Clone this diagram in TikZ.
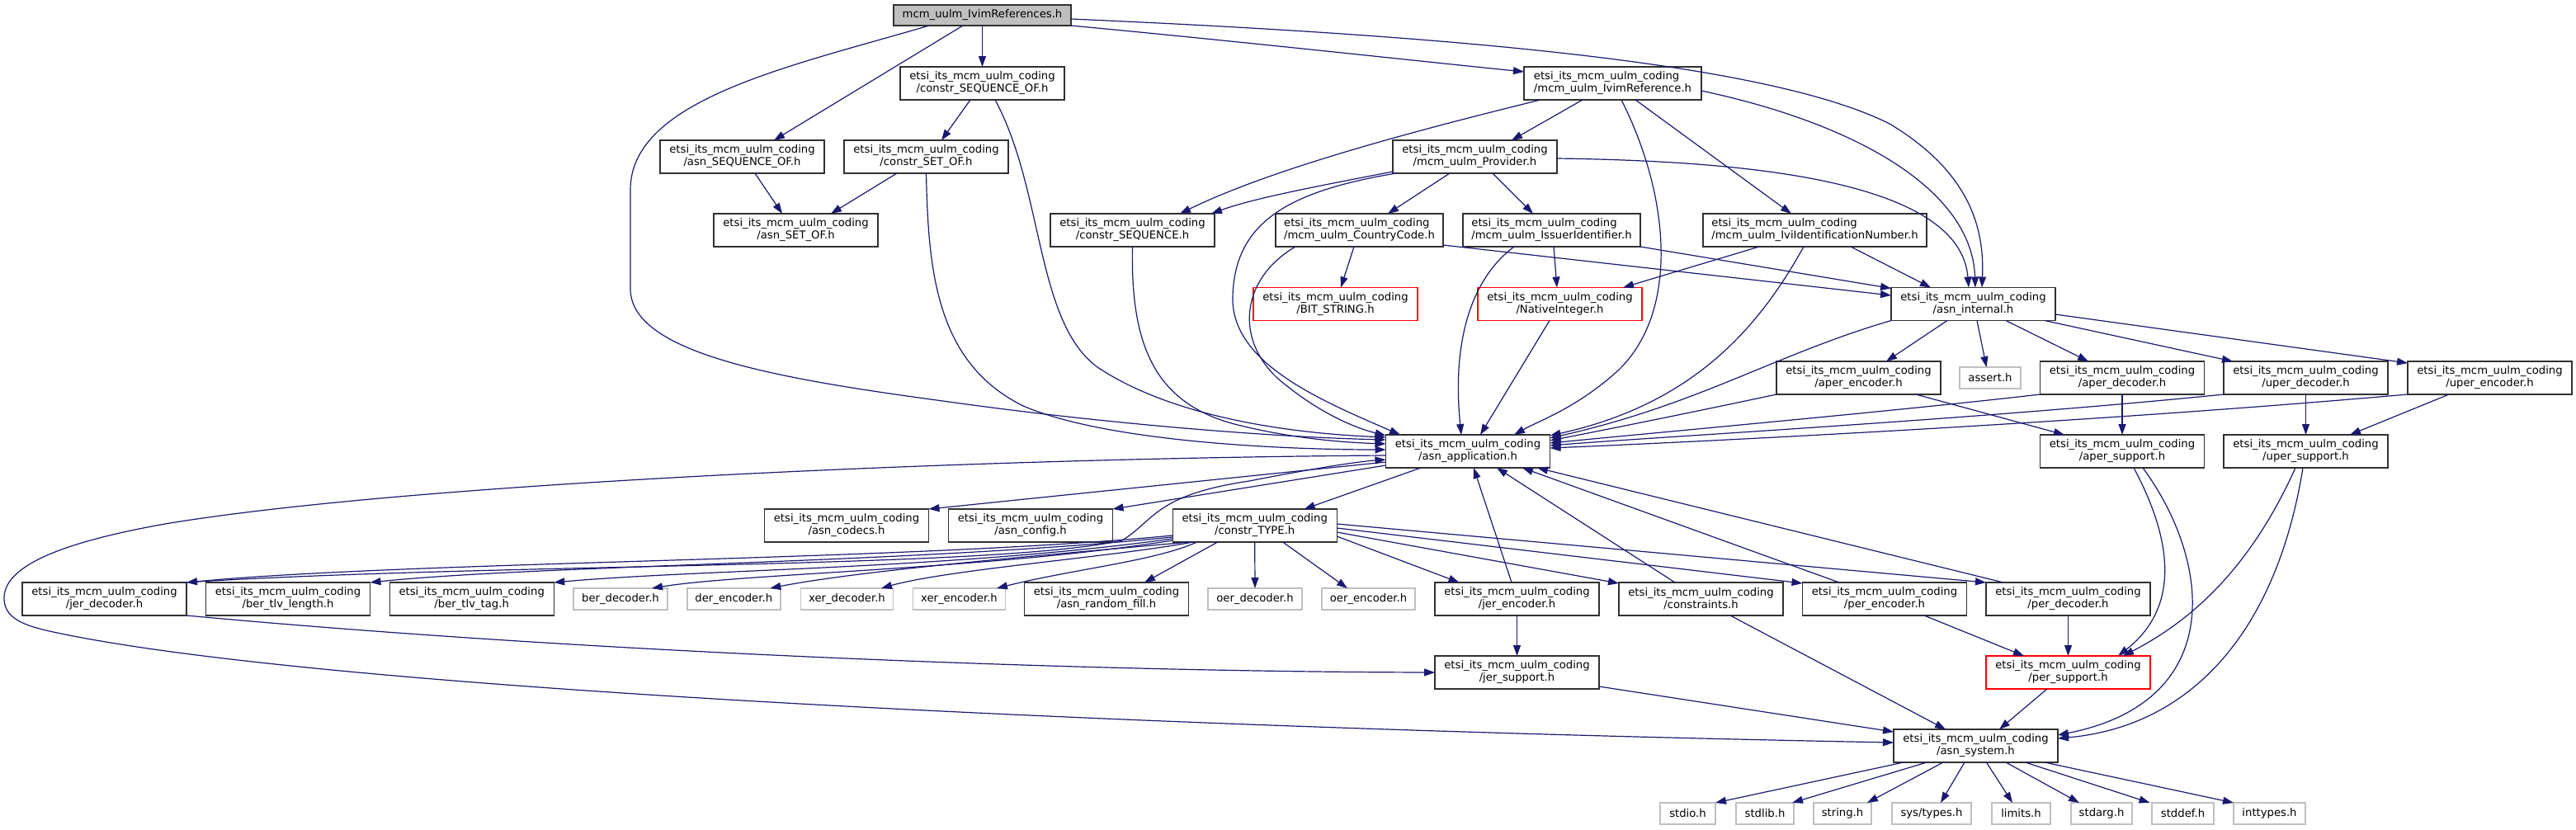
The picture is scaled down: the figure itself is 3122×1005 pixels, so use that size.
\documentclass[tikz,border=0pt]{standalone}
\usepackage{fontspec}
\setmainfont{DejaVu Sans}
\usetikzlibrary{arrows.meta}
\definecolor{edgec}{HTML}{191970}
\definecolor{bordc}{HTML}{303030}
\definecolor{sysc}{HTML}{BFBFBF}
\definecolor{rootfill}{HTML}{BFBFBF}
\definecolor{redc}{HTML}{FF0000}
\begin{document}
\begin{tikzpicture}[x=1pt,y=-1pt,
 every node/.style={font=\fontsize{13.2}{15}\selectfont, inner sep=0pt, outer sep=0pt},
 fb/.style={draw=bordc, line width=1.4pt, minimum height=40pt, minimum width=199pt, align=center},
 fbl/.style={fb, align=left},
 rb/.style={fb, draw=redc},
 sb/.style={draw=sysc, line width=1.4pt, minimum height=26pt, align=center},
 root/.style={draw=bordc, line width=1.4pt, fill=rootfill, minimum height=25pt, minimum width=215pt},
 e/.style={draw=edgec, line width=1.2pt, -{Triangle[length=13pt,width=9pt]}},
]
\useasboundingbox (0,0) rectangle (3122,1005);
% nodes
\node[root] (T) at (1190.5,18.5) {mcm\_uulm\_IvimReferences.h};
\node[fb] (CSO) at (1190.5,101) {etsi\_its\_mcm\_uulm\_coding\\/constr\_SEQUENCE\_OF.h};
\node[fb] (ASO) at (899.5,190) {etsi\_its\_mcm\_uulm\_coding\\/asn\_SEQUENCE\_OF.h};
\node[fb] (CSETO) at (1122.5,190) {etsi\_its\_mcm\_uulm\_coding\\/constr\_SET\_OF.h};
\node[fb] (ASETO) at (964.5,279) {etsi\_its\_mcm\_uulm\_coding\\/asn\_SET\_OF.h};
\node[fb] (CSEQ) at (1372.5,279) {etsi\_its\_mcm\_uulm\_coding\\/constr\_SEQUENCE.h};
\node[fbl, minimum width=215pt] (IR) at (1954.5,101) {etsi\_its\_mcm\_uulm\_coding\\/mcm\_uulm\_IvimReference.h};
\node[fb] (PRV) at (1787.5,190) {etsi\_its\_mcm\_uulm\_coding\\/mcm\_uulm\_Provider.h};
\node[fbl, minimum width=203pt] (CC) at (1647.5,279) {etsi\_its\_mcm\_uulm\_coding\\/mcm\_uulm\_CountryCode.h};
\node[fbl, minimum width=215pt] (II) at (1880.5,279) {etsi\_its\_mcm\_uulm\_coding\\/mcm\_uulm\_IssuerIdentifier.h};
\node[fbl, minimum width=271pt] (IVN) at (2199.5,279) {etsi\_its\_mcm\_uulm\_coding\\/mcm\_uulm\_IviIdentificationNumber.h};
\node[rb] (BIT) at (1618.5,368.5) {etsi\_its\_mcm\_uulm\_coding\\/BIT\_STRING.h};
\node[rb] (NI) at (1890.5,368.5) {etsi\_its\_mcm\_uulm\_coding\\/NativeInteger.h};
\node[fb] (AI) at (2391.5,368.5) {etsi\_its\_mcm\_uulm\_coding\\/asn\_internal.h};
\node[fb] (AENC) at (2252.5,458) {etsi\_its\_mcm\_uulm\_coding\\/aper\_encoder.h};
\node[sb, minimum width=74pt] (ASSERT) at (2412,458) {assert.h};
\node[fb] (ADEC) at (2572,458) {etsi\_its\_mcm\_uulm\_coding\\/aper\_decoder.h};
\node[fb] (UDEC) at (2794.5,458) {etsi\_its\_mcm\_uulm\_coding\\/uper\_decoder.h};
\node[fb] (UENC) at (3017.5,458) {etsi\_its\_mcm\_uulm\_coding\\/uper\_encoder.h};
\node[fb] (A) at (1779,547) {etsi\_its\_mcm\_uulm\_coding\\/asn\_application.h};
\node[fb] (ASUP) at (2572,547) {etsi\_its\_mcm\_uulm\_coding\\/aper\_support.h};
\node[fb] (USUP) at (2794.5,547) {etsi\_its\_mcm\_uulm\_coding\\/uper\_support.h};
\node[fb] (CODECS) at (1026,637) {etsi\_its\_mcm\_uulm\_coding\\/asn\_codecs.h};
\node[fb] (CONFIG) at (1249,637) {etsi\_its\_mcm\_uulm\_coding\\/asn\_config.h};
\node[fb] (CT) at (1520.7,637) {etsi\_its\_mcm\_uulm\_coding\\/constr\_TYPE.h};
\node[fb] (JD) at (126.5,726) {etsi\_its\_mcm\_uulm\_coding\\/jer\_decoder.h};
\node[fb] (BTL) at (349,726) {etsi\_its\_mcm\_uulm\_coding\\/ber\_tlv\_length.h};
\node[fb] (BTT) at (571.7,726) {etsi\_its\_mcm\_uulm\_coding\\/ber\_tlv\_tag.h};
\node[sb, minimum width=114pt] (BD) at (752,726) {ber\_decoder.h};
\node[sb, minimum width=113pt] (DE) at (889.3,726) {der\_encoder.h};
\node[sb, minimum width=112pt] (XD) at (1026.5,726) {xer\_decoder.h};
\node[sb, minimum width=112pt] (XE) at (1162.5,726) {xer\_encoder.h};
\node[fb] (ARF) at (1341,726) {etsi\_its\_mcm\_uulm\_coding\\/asn\_random\_fill.h};
\node[sb, minimum width=114pt] (OD) at (1521,726) {oer\_decoder.h};
\node[sb, minimum width=113pt] (OE) at (1658.5,726) {oer\_encoder.h};
\node[fb] (JE) at (1838.5,726) {etsi\_its\_mcm\_uulm\_coding\\/jer\_encoder.h};
\node[fb] (CON) at (2061.5,726) {etsi\_its\_mcm\_uulm\_coding\\/constraints.h};
\node[fb] (PE) at (2284,726) {etsi\_its\_mcm\_uulm\_coding\\/per\_encoder.h};
\node[fb] (PD) at (2506.5,726) {etsi\_its\_mcm\_uulm\_coding\\/per\_decoder.h};
\node[fb] (JS) at (1838.5,815) {etsi\_its\_mcm\_uulm\_coding\\/jer\_support.h};
\node[rb] (PS) at (2506.5,815) {etsi\_its\_mcm\_uulm\_coding\\/per\_support.h};
\node[fb] (SYS) at (2394.5,904) {etsi\_its\_mcm\_uulm\_coding\\/asn\_system.h};
\node[sb, minimum width=67pt] (stdio) at (2045.5,986) {stdio.h};
\node[sb, minimum width=70pt] (stdlib) at (2139,986) {stdlib.h};
\node[sb, minimum width=70pt] (string) at (2233,986) {string.h};
\node[sb, minimum width=96pt] (systypes) at (2341,986) {sys/types.h};
\node[sb, minimum width=71pt] (limits) at (2449.5,986) {limits.h};
\node[sb, minimum width=74pt] (stdarg) at (2547,986) {stdarg.h};
\node[sb, minimum width=75pt] (stddef) at (2645.5,986) {stddef.h};
\node[sb, minimum width=87pt] (inttypes) at (2750.5,986) {inttypes.h};
% edges from root
\draw[e] ([xshift=-23.5pt]T.south) -- ([xshift=38.5pt]ASO.north);
\draw[e] (T.south) -- (CSO.north);
\draw[e] (T.south east) .. controls (1500,50) and (1700,72) .. ([yshift=14pt]IR.west);
\draw[e] ([yshift=-4.5pt]T.east) .. controls (1800,45) and (2150,80) .. (2290,150) .. controls (2390,210) and (2405,280) .. ([xshift=10.5pt]AI.north);
\draw[e] ([xshift=-64.5pt]T.south) .. controls (960,80) and (764,120) .. (764,230) -- (764,350) .. controls (764,430) and (950,460) .. (1150,487) .. controls (1350,515) and (1550,530) .. ([yshift=14pt]A.west);
% constr_SEQUENCE_OF, asn_SEQUENCE_OF, constr_SET_OF
\draw[e] ([xshift=-14.5pt]CSO.south) -- ([xshift=18.5pt]CSETO.north);
\draw[e] ([xshift=15.5pt]CSO.south) .. controls (1265,230) and (1255,390) .. (1330,445) .. controls (1420,505) and (1560,525) .. ([yshift=17pt]A.west);
\draw[e] ([xshift=15.5pt]ASO.south) -- ([xshift=-16.5pt]ASETO.north);
\draw[e] ([xshift=-35.5pt]CSETO.south) -- ([xshift=42.5pt]ASETO.north);
\draw[e] (CSETO.south) .. controls (1125,330) and (1135,440) .. (1240,492) .. controls (1340,535) and (1550,545) .. ([yshift=2pt]A.west);
\draw[e] (CSEQ.south) .. controls (1370,420) and (1400,490) .. (1500,515) .. controls (1560,530) and (1620,536) .. ([yshift=9pt]A.west);
% IvimReference
\draw[e] ([xshift=-87.5pt]IR.south) .. controls (1750,150) and (1550,200) .. ([xshift=57.5pt]CSEQ.north);
\draw[e] ([xshift=-36.5pt]IR.south) -- ([xshift=44.5pt]PRV.north);
\draw[e] ([xshift=10.5pt]IR.south) .. controls (2025,240) and (2035,380) .. (1960,450) .. controls (1910,495) and (1865,510) .. ([xshift=56pt]A.north);
\draw[e] ([xshift=27.5pt]IR.south) -- ([xshift=-28.5pt]IVN.north);
\draw[e] ([yshift=-9pt]IR.east) .. controls (2250,150) and (2390,230) .. ([xshift=2.5pt]AI.north);
% Provider
\draw[e] ([yshift=-18pt]PRV.west) .. controls (1600,225) and (1520,240) .. ([xshift=95.5pt]CSEQ.north);
\draw[e] ([xshift=-95.5pt]PRV.south) .. controls (1560,232) and (1496,270) .. (1494,360) .. controls (1492,440) and (1600,485) .. ([xshift=-82pt]A.north);
\draw[e] ([xshift=-30.5pt]PRV.south) -- ([xshift=34.5pt]CC.north);
\draw[e] ([xshift=21.5pt]PRV.south) -- ([xshift=-22.5pt]II.north);
\draw[e] ([yshift=-2pt]PRV.east) .. controls (2100,195) and (2375,215) .. ([xshift=-5.5pt]AI.north);
% CountryCode
\draw[e] ([xshift=-6.5pt]CC.south) -- ([xshift=6.5pt]BIT.north);
\draw[e] ([xshift=-77.5pt]CC.south) .. controls (1500,340) and (1495,420) .. (1560,468) .. controls (1600,500) and (1640,518) .. ([yshift=19pt]A.west);
\draw[e] ([yshift=-18pt]CC.east) -- ([yshift=10.5pt]AI.west);
% IssuerIdentifier
\draw[e] ([xshift=2.5pt]II.south) -- ([xshift=-3.5pt]NI.north);
\draw[e] ([xshift=-45.5pt]II.south) .. controls (1780,340) and (1760,420) .. ([xshift=-8pt]A.north);
\draw[e] ([yshift=-20pt]II.east) -- ([yshift=19pt]AI.west);
% IviIdentificationNumber
\draw[e] ([xshift=-67.5pt]IVN.south) -- ([xshift=76.5pt]NI.north);
\draw[e] ([xshift=-13.5pt]IVN.south) .. controls (2130,400) and (2050,490) .. ([yshift=19pt]A.east);
\draw[e] ([xshift=43.5pt]IVN.south) -- ([xshift=-51.5pt]AI.north);
% NativeInteger
\draw[e] ([xshift=-12.5pt]NI.south) -- ([xshift=15pt]A.north);
% asn_internal
\draw[e] ([xshift=-31.5pt]AI.south) -- ([xshift=33.5pt]AENC.north);
\draw[e] ([xshift=4.5pt]AI.south) -- ([xshift=-4.5pt]ASSERT.north);
\draw[e] ([xshift=39.5pt]AI.south) -- ([xshift=-41pt]ADEC.north);
\draw[e] ([xshift=86.5pt]AI.south) -- ([xshift=-88.5pt]UDEC.north);
\draw[e] ([yshift=-12.5pt]AI.east) -- ([yshift=18pt]UENC.west);
\draw[e] (AI.south west) .. controls (2150,430) and (2060,490) .. ([yshift=16pt]A.east);
% aper / uper
\draw[e] (AENC.south west) .. controls (2050,500) and (1950,520) .. ([yshift=13pt]A.east);
\draw[e] ([xshift=69.5pt]AENC.south) -- ([xshift=-70pt]ASUP.north);
\draw[e] (ADEC.south west) .. controls (2300,498) and (2000,525) .. ([yshift=10pt]A.east);
\draw[e] (ADEC.south) -- (ASUP.north);
\draw[e] (UDEC.south west) .. controls (2400,508) and (2000,530) .. ([yshift=7pt]A.east);
\draw[e] (UDEC.south) -- (USUP.north);
\draw[e] (UENC.south west) .. controls (2500,515) and (2000,538) .. ([yshift=4pt]A.east);
\draw[e] ([xshift=-49.5pt]UENC.south) -- ([xshift=53.5pt]USUP.north);
\draw[e] ([xshift=14pt]ASUP.south) .. controls (2625,640) and (2650,730) .. ([xshift=60.5pt]PS.north);
\draw[e] ([xshift=25pt]ASUP.south) .. controls (2680,680) and (2700,850) .. ([yshift=13pt]SYS.east);
\draw[e] ([xshift=-12.5pt]USUP.south) .. controls (2740,660) and (2680,740) .. ([xshift=66.5pt]PS.north);
\draw[e] ([xshift=-3.5pt]USUP.south) .. controls (2760,760) and (2660,880) .. ([yshift=9pt]SYS.east);
% asn_application
\draw[e] ([yshift=-13pt]A.west) -- (CODECS.north east);
\draw[e] ([yshift=-17pt]A.west) -- (CONFIG.north east);
\draw[e] ([xshift=-57pt]A.south) -- ([xshift=60pt]CT.north);
\draw[e] ([yshift=-5pt]A.west) .. controls (1200,555) and (500,585) .. (200,635) .. controls (60,660) and (5,690) .. (5,725) .. controls (5,750) and (30,758) .. (60,765) .. controls (400,840) and (1500,885) .. ([yshift=4pt]SYS.west);
% constr_TYPE
\draw[e] ([yshift=-12pt]CT.west) .. controls (1100,680) and (500,680) .. (JD.north east);
\draw[e] ([yshift=-14pt]CT.west) .. controls (1100,683) and (650,685) .. (BTL.north east);
\draw[e] ([yshift=-16pt]CT.west) .. controls (1150,690) and (850,690) .. (BTT.north east);
\draw[e] ([yshift=-18pt]CT.west) .. controls (1200,690) and (900,695) .. ([xshift=38pt]BD.north);
\draw[e] ([xshift=-80pt]CT.south) .. controls (1300,670) and (1050,690) .. ([xshift=44pt]DE.north);
\draw[e] ([xshift=-75pt]CT.south) .. controls (1350,675) and (1150,690) .. ([xshift=41.5pt]XD.north);
\draw[e] ([xshift=-70pt]CT.south) .. controls (1400,680) and (1300,690) .. ([xshift=45.5pt]XE.north);
\draw[e] ([xshift=-45pt]CT.south) -- ([xshift=46pt]ARF.north);
\draw[e] (CT.south) -- (OD.north);
\draw[e] ([xshift=34pt]CT.south) -- ([xshift=-25.5pt]OE.north);
\draw[e] ([yshift=-13pt]CT.east) -- ([xshift=-70pt]JE.north);
\draw[e] ([yshift=-8pt]CT.east) -- ([yshift=19pt]CON.west);
\draw[e] ([yshift=-3pt]CT.east) -- ([yshift=19pt]PE.west);
\draw[e] ([yshift=2pt]CT.east) -- (PD.north west);
% jer
\draw[e] ([xshift=-3pt]JD.north east) .. controls (600,682) and (1200,690) .. (1360,655) .. controls (1400,630) and (1400,600) .. (1514,583) .. controls (1580,570) and (1640,560) .. ([yshift=-10pt]A.west);
\draw[e] (JD.south east) .. controls (700,790) and (1300,814) .. (JS.west);
\draw[e] ([xshift=-6.5pt]JE.north) -- ([xshift=7pt]A.south);
\draw[e] (JE.south) -- (JS.north);
\draw[e] ([xshift=-31.5pt]CON.north) -- ([xshift=35pt]A.south);
\draw[e] ([xshift=35.5pt]CON.south) -- ([xshift=-36.5pt]SYS.north);
\draw[e] ([xshift=-55pt]PE.north) -- ([xshift=66pt]A.south);
\draw[e] ([xshift=48pt]PE.south) -- ([xshift=-53.5pt]PS.north);
\draw[e] ([xshift=-78.5pt]PD.north) -- ([xshift=84pt]A.south);
\draw[e] (PD.south) -- (PS.north);
\draw[e] ([yshift=-17pt]JS.east) -- ([yshift=17pt]SYS.west);
\draw[e] ([xshift=-25.5pt]PS.south) -- ([xshift=28.5pt]SYS.north);
% asn_system
\draw[e] ([xshift=-87.5pt]SYS.south) -- (stdio.north east);
\draw[e] ([xshift=-59.5pt]SYS.south) -- ([xshift=33pt]stdlib.north);
\draw[e] ([xshift=-39.5pt]SYS.south) -- ([xshift=30pt]string.north);
\draw[e] ([xshift=-13.5pt]SYS.south) -- ([xshift=11pt]systypes.north);
\draw[e] ([xshift=13pt]SYS.south) -- ([xshift=-10.5pt]limits.north);
\draw[e] ([xshift=36.5pt]SYS.south) -- ([xshift=-27pt]stdarg.north);
\draw[e] ([xshift=60pt]SYS.south) -- ([xshift=-40pt]stddef.north);
\draw[e] ([xshift=83.5pt]SYS.south) -- (inttypes.north west);
\end{tikzpicture}
\end{document}
